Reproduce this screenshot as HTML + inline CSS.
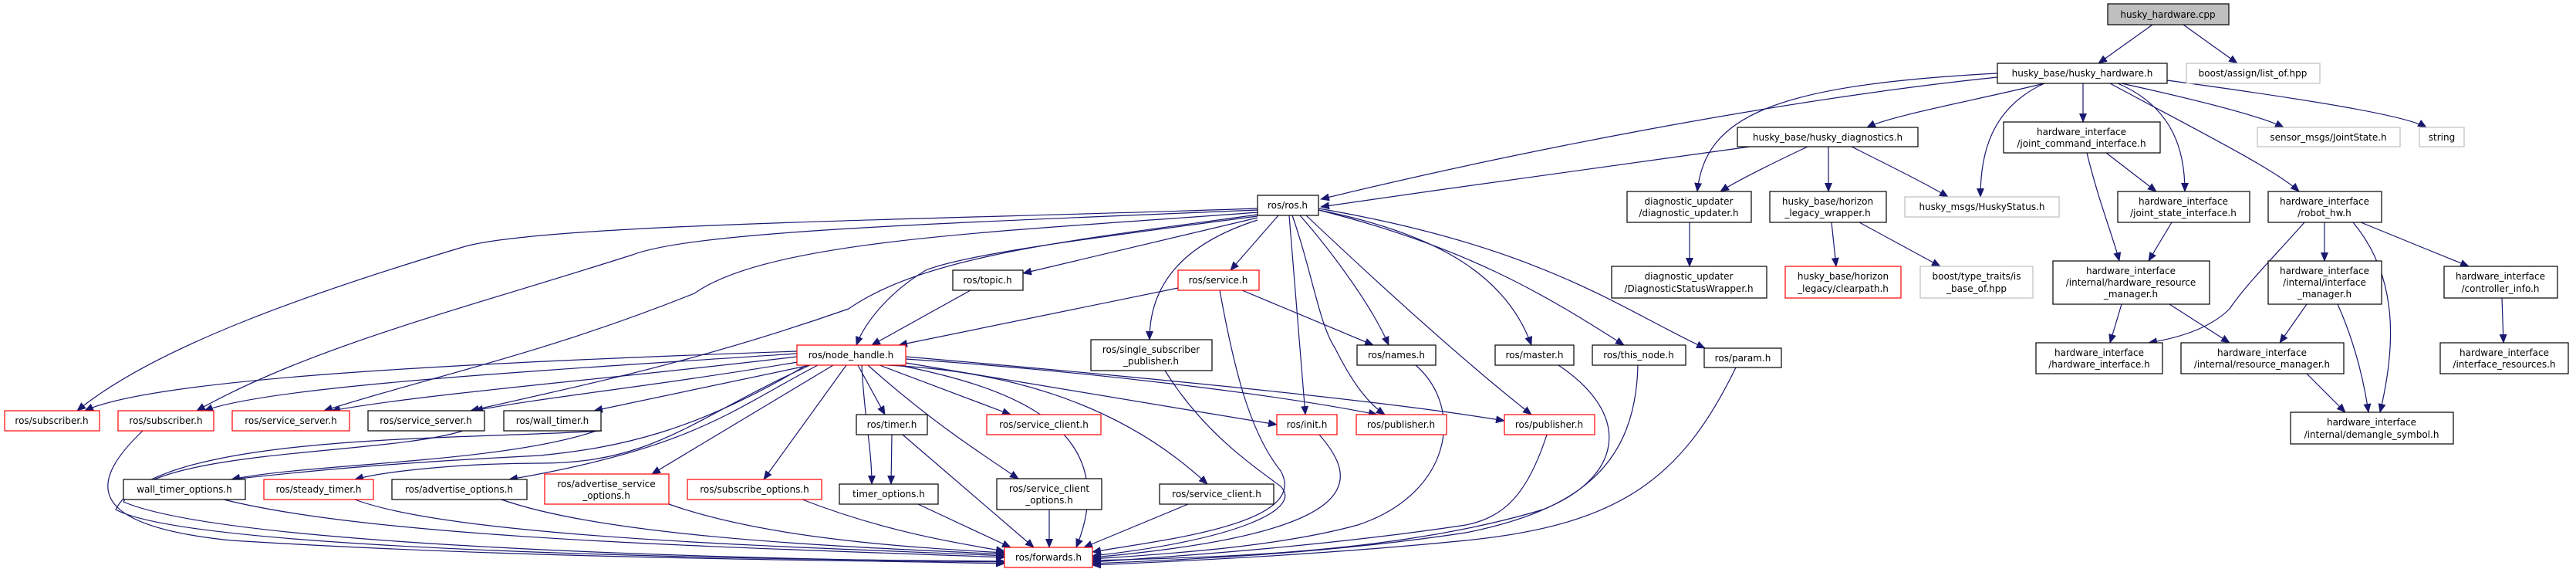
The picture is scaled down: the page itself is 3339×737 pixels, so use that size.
<!DOCTYPE html>
<html><head><meta charset="utf-8"><style>
html,body{margin:0;padding:0;background:#fff;}
svg{display:block;}
text{font-family:"DejaVu Sans","Liberation Sans",sans-serif;font-size:12px;fill:#000;}
.e{fill:none;stroke:#191970;stroke-width:1.2;marker-end:url(#a);}
.b{fill:#fff;stroke:#000;stroke-width:1.2;}
.r{fill:#fff;stroke:#ff0000;stroke-width:1.2;}
.g{fill:#fff;stroke:#bfbfbf;stroke-width:1.2;}
</style></head><body>
<svg width="3339" height="737" viewBox="0 0 3339 737" xmlns="http://www.w3.org/2000/svg">
<defs><marker id="a" markerWidth="12" markerHeight="10" refX="11" refY="5" orient="auto" markerUnits="userSpaceOnUse"><path d="M0,0 L12,5 L0,10 z" fill="#191970"/></marker></defs>
<g>
<path class="e" d="M2790,32 L2720,82"/>
<path class="e" d="M2830,32 L2900,82"/>
<path class="e" d="M2589,100 C2300,130 1950,200 1712,258"/>
<path class="e" d="M2589,95 C2300,110 2210,150 2200,248"/>
<path class="e" d="M2650,108 C2560,130 2450,150 2420,165"/>
<path class="e" d="M2650,108 C2580,140 2567,200 2567,255"/>
<path class="e" d="M2700,108 L2700,158"/>
<path class="e" d="M2745,108 C2820,140 2832,200 2832,248"/>
<path class="e" d="M2735,108 C2850,170 2950,220 2980,248"/>
<path class="e" d="M2750,108 C2850,130 2930,150 2960,165"/>
<path class="e" d="M2809,104 C3000,130 3120,150 3145,165"/>
<path class="e" d="M2268,190 C2100,215 1900,240 1712,268"/>
<path class="e" d="M2343,190 C2290,215 2250,235 2230,248"/>
<path class="e" d="M2370,190 L2370,248"/>
<path class="e" d="M2400,190 C2460,220 2500,240 2525,255"/>
<path class="e" d="M2190,288 L2190,345"/>
<path class="e" d="M2374,288 L2380,345"/>
<path class="e" d="M2410,288 L2515,345"/>
<path class="e" d="M2705,198 C2720,260 2740,310 2747,338"/>
<path class="e" d="M2730,198 L2795,248"/>
<path class="e" d="M2815,288 L2785,338"/>
<path class="e" d="M2987,288 C2950,330 2910,370 2890,400 C2860,430 2810,440 2785,444"/>
<path class="e" d="M3013,288 L3013,338"/>
<path class="e" d="M3050,288 C3110,360 3105,450 3085,534"/>
<path class="e" d="M3060,288 L3200,345"/>
<path class="e" d="M2750,394 L2735,444"/>
<path class="e" d="M2812,394 L2890,444"/>
<path class="e" d="M2990,394 L2955,444"/>
<path class="e" d="M3030,394 C3055,450 3065,500 3070,534"/>
<path class="e" d="M2990,484 L3040,534"/>
<path class="e" d="M3243,386 L3245,444"/>

<path class="e" d="M1630,270 C1200,285 700,290 600,320 C400,380 200,450 100,532"/>
<path class="e" d="M1630,272 C1200,290 900,300 820,330 C600,400 400,450 255,532"/>
<path class="e" d="M1630,275 C1300,300 1000,310 900,380 C700,460 550,490 420,532"/>
<path class="e" d="M1630,278 C1400,310 1200,330 1100,400 C900,470 750,500 610,532"/>
<path class="e" d="M1630,280 C1400,310 1250,330 1200,350 C1150,380 1120,420 1110,447"/>
<path class="e" d="M1630,282 L1326,354"/>
<path class="e" d="M1657,279 L1595,350"/>
<path class="e" d="M1630,285 C1520,320 1490,380 1490,440"/>
<path class="e" d="M1671,279 L1692,537"/>
<path class="e" d="M1675,279 C1700,350 1710,420 1730,450 C1750,490 1770,520 1795,537"/>
<path class="e" d="M1685,279 C1730,330 1780,400 1800,447"/>
<path class="e" d="M1693,279 C1800,380 1900,470 1985,537"/>
<path class="e" d="M1709,272 C1850,300 1950,350 1985,447"/>
<path class="e" d="M1709,272 C1900,320 2000,380 2105,447"/>
<path class="e" d="M1709,270 C2000,320 2100,400 2210,451"/>
<path class="e" d="M1258,376 L1130,447"/>
<path class="e" d="M1527,373 L1165,447"/>
<path class="e" d="M1610,376 L1780,447"/>
<path class="e" d="M1581,376 C1600,480 1620,560 1660,610 C1700,680 1500,700 1416,715"/>

<path class="e" d="M1033,455 C600,470 200,490 110,532"/>
<path class="e" d="M1033,458 C700,480 350,500 265,532"/>
<path class="e" d="M1033,462 C800,490 550,510 430,532"/>
<path class="e" d="M1040,468 C850,500 700,515 615,532"/>
<path class="e" d="M1050,473 L770,532"/>
<path class="e" d="M1045,473 C900,560 800,580 700,590 C500,600 400,610 300,621"/>
<path class="e" d="M1050,473 C900,540 850,600 700,600 C600,600 500,610 460,621"/>
<path class="e" d="M1060,473 C950,530 900,580 660,621"/>
<path class="e" d="M1080,473 L845,614"/>
<path class="e" d="M1097,473 L990,621"/>
<path class="e" d="M1112,473 L1147,537"/>
<path class="e" d="M1117,473 C1120,540 1130,580 1130,627"/>
<path class="e" d="M1140,473 L1310,537"/>
<path class="e" d="M1125,473 C1200,540 1260,580 1320,620"/>
<path class="e" d="M1150,473 C1300,480 1450,520 1565,627"/>
<path class="e" d="M1165,473 C1300,500 1460,550 1395,709"/>
<path class="e" d="M1174,470 L1655,550"/>
<path class="e" d="M1174,465 C1400,480 1650,510 1785,537"/>
<path class="e" d="M1174,462 C1500,490 1800,520 1950,545"/>

<path class="e" d="M185,558 C120,620 100,680 300,700 C700,725 1100,725 1302,730"/>
<path class="e" d="M600,558 C500,590 200,580 160,650 C300,710 1000,725 1302,728"/>
<path class="e" d="M773,558 C650,600 400,600 300,621"/>
<path class="e" d="M780,558 C600,570 200,560 150,660 C250,715 1000,725 1302,727"/>
<path class="e" d="M290,647 C500,700 1000,710 1302,722"/>
<path class="e" d="M460,647 C600,700 1100,710 1302,720"/>
<path class="e" d="M650,647 C800,700 1150,710 1302,718"/>
<path class="e" d="M867,653 C1000,700 1200,710 1302,716"/>
<path class="e" d="M1040,647 C1150,690 1250,705 1302,714"/>
<path class="e" d="M1190,653 L1310,709"/>
<path class="e" d="M1156,563 L1155,627"/>
<path class="e" d="M1170,563 L1340,709"/>
<path class="e" d="M1360,660 L1360,709"/>
<path class="e" d="M1540,653 L1405,709"/>
<path class="e" d="M1510,480 C1560,560 1620,600 1660,630 C1690,660 1600,700 1416,720"/>
<path class="e" d="M1710,563 C1760,620 1780,690 1416,722"/>
<path class="e" d="M1835,473 C1900,530 1880,640 1760,680 C1650,710 1500,718 1416,724"/>
<path class="e" d="M2020,473 C2120,540 2100,620 2000,660 C1800,720 1550,722 1416,726"/>
<path class="e" d="M2005,563 C1980,640 1950,670 1900,680 C1700,710 1500,722 1416,728"/>
<path class="e" d="M2123,473 C2120,600 2050,660 1900,690 C1700,720 1500,726 1416,730"/>
<path class="e" d="M2250,476 C2180,620 2100,680 1900,700 C1700,720 1500,728 1416,732"/>
</g>

<g text-anchor="middle">
<rect x="2732" y="5" width="157" height="27" fill="#bfbfbf" stroke="#000" stroke-width="1.2"/><text x="2810" y="23">husky_hardware.cpp</text>
<rect class="b" x="2589" y="82" width="220" height="26"/><text x="2699" y="99">husky_base/husky_hardware.h</text>
<rect class="g" x="2834" y="82" width="173" height="26"/><text x="2920" y="99">boost/assign/list_of.hpp</text>
<rect class="b" x="2252" y="165" width="234" height="25"/><text x="2369" y="182">husky_base/husky_diagnostics.h</text>
<rect class="b" x="2597" y="158" width="203" height="40"/><text x="2698" y="175">hardware_interface</text><text x="2698" y="190">/joint_command_interface.h</text>
<rect class="g" x="2926" y="165" width="185" height="25"/><text x="3018" y="182">sensor_msgs/JointState.h</text>
<rect class="g" x="3136" y="165" width="58" height="25"/><text x="3165" y="182">string</text>
<rect class="b" x="2109" y="248" width="161" height="40"/><text x="2189" y="265">diagnostic_updater</text><text x="2189" y="280">/diagnostic_updater.h</text>
<rect class="b" x="2294" y="248" width="151" height="40"/><text x="2369" y="265">husky_base/horizon</text><text x="2369" y="280">_legacy_wrapper.h</text>
<rect class="g" x="2469" y="255" width="200" height="26"/><text x="2569" y="272">husky_msgs/HuskyStatus.h</text>
<rect class="b" x="2745" y="248" width="171" height="40"/><text x="2830" y="265">hardware_interface</text><text x="2830" y="280">/joint_state_interface.h</text>
<rect class="b" x="2940" y="248" width="147" height="40"/><text x="3013" y="265">hardware_interface</text><text x="3013" y="280">/robot_hw.h</text>
<rect class="b" x="2089" y="345" width="201" height="41"/><text x="2189" y="362">diagnostic_updater</text><text x="2189" y="378">/DiagnosticStatusWrapper.h</text>
<rect class="r" x="2314" y="345" width="150" height="41"/><text x="2389" y="362">husky_base/horizon</text><text x="2389" y="378">_legacy/clearpath.h</text>
<rect class="g" x="2489" y="345" width="146" height="41"/><text x="2562" y="362">boost/type_traits/is</text><text x="2562" y="378">_base_of.hpp</text>
<rect class="b" x="2661" y="338" width="203" height="56"/><text x="2762" y="355">hardware_interface</text><text x="2762" y="370">/internal/hardware_resource</text><text x="2762" y="385">_manager.h</text>
<rect class="b" x="2940" y="338" width="147" height="56"/><text x="3013" y="355">hardware_interface</text><text x="3013" y="370">/internal/interface</text><text x="3013" y="385">_manager.h</text>
<rect class="b" x="3168" y="345" width="147" height="41"/><text x="3241" y="362">hardware_interface</text><text x="3241" y="378">/controller_info.h</text>
<rect class="b" x="2209" y="451" width="100" height="25"/><text x="2259" y="468">ros/param.h</text>
<rect class="b" x="2639" y="444" width="164" height="40"/><text x="2721" y="461">hardware_interface</text><text x="2721" y="476">/hardware_interface.h</text>
<rect class="b" x="2827" y="444" width="211" height="40"/><text x="2932" y="461">hardware_interface</text><text x="2932" y="476">/internal/resource_manager.h</text>
<rect class="b" x="3163" y="444" width="166" height="40"/><text x="3246" y="461">hardware_interface</text><text x="3246" y="476">/interface_resources.h</text>
<rect class="b" x="2969" y="534" width="211" height="41"/><text x="3074" y="551">hardware_interface</text><text x="3074" y="567">/internal/demangle_symbol.h</text>

<rect class="b" x="1630" y="253" width="79" height="26"/><text x="1669" y="270">ros/ros.h</text>
<rect class="b" x="1235" y="350" width="91" height="26"/><text x="1280" y="367">ros/topic.h</text>
<rect class="r" x="1527" y="350" width="105" height="26"/><text x="1579" y="367">ros/service.h</text>
<rect class="r" x="1033" y="447" width="141" height="26"/><text x="1103" y="464">ros/node_handle.h</text>
<rect class="b" x="1414" y="440" width="157" height="40"/><text x="1492" y="457">ros/single_subscriber</text><text x="1492" y="472">_publisher.h</text>
<rect class="b" x="1759" y="447" width="102" height="26"/><text x="1810" y="464">ros/names.h</text>
<rect class="b" x="1938" y="447" width="102" height="26"/><text x="1989" y="464">ros/master.h</text>
<rect class="b" x="2064" y="447" width="121" height="26"/><text x="2124" y="464">ros/this_node.h</text>
<rect class="b" x="1110" y="537" width="92" height="26"/><text x="1156" y="554">ros/timer.h</text>
<rect class="r" x="1279" y="537" width="148" height="26"/><text x="1353" y="554">ros/service_client.h</text>
<rect class="r" x="1655" y="537" width="78" height="26"/><text x="1694" y="554">ros/init.h</text>
<rect class="r" x="1758" y="537" width="117" height="26"/><text x="1816" y="554">ros/publisher.h</text>
<rect class="r" x="1950" y="537" width="117" height="26"/><text x="2008" y="554">ros/publisher.h</text>
<rect class="b" x="1088" y="627" width="128" height="26"/><text x="1152" y="644">timer_options.h</text>
<rect class="b" x="1292" y="620" width="136" height="40"/><text x="1360" y="637">ros/service_client</text><text x="1360" y="652">_options.h</text>
<rect class="b" x="1503" y="627" width="148" height="26"/><text x="1577" y="644">ros/service_client.h</text>
<rect class="r" x="1302" y="709" width="114" height="26"/><text x="1359" y="726">ros/forwards.h</text>

<rect class="r" x="6" y="532" width="123" height="26"/><text x="67" y="549">ros/subscriber.h</text>
<rect class="r" x="153" y="532" width="124" height="26"/><text x="215" y="549">ros/subscriber.h</text>
<rect class="r" x="301" y="532" width="152" height="26"/><text x="377" y="549">ros/service_server.h</text>
<rect class="b" x="477" y="532" width="151" height="26"/><text x="552" y="549">ros/service_server.h</text>
<rect class="b" x="653" y="532" width="126" height="26"/><text x="716" y="549">ros/wall_timer.h</text>
<rect class="b" x="160" y="621" width="158" height="26"/><text x="239" y="638">wall_timer_options.h</text>
<rect class="r" x="342" y="621" width="142" height="26"/><text x="413" y="638">ros/steady_timer.h</text>
<rect class="b" x="508" y="621" width="175" height="26"/><text x="595" y="638">ros/advertise_options.h</text>
<rect class="r" x="706" y="614" width="161" height="39"/><text x="786" y="631">ros/advertise_service</text><text x="786" y="646">_options.h</text>
<rect class="r" x="891" y="621" width="174" height="26"/><text x="978" y="638">ros/subscribe_options.h</text>
</g>
</svg>
</body></html>
